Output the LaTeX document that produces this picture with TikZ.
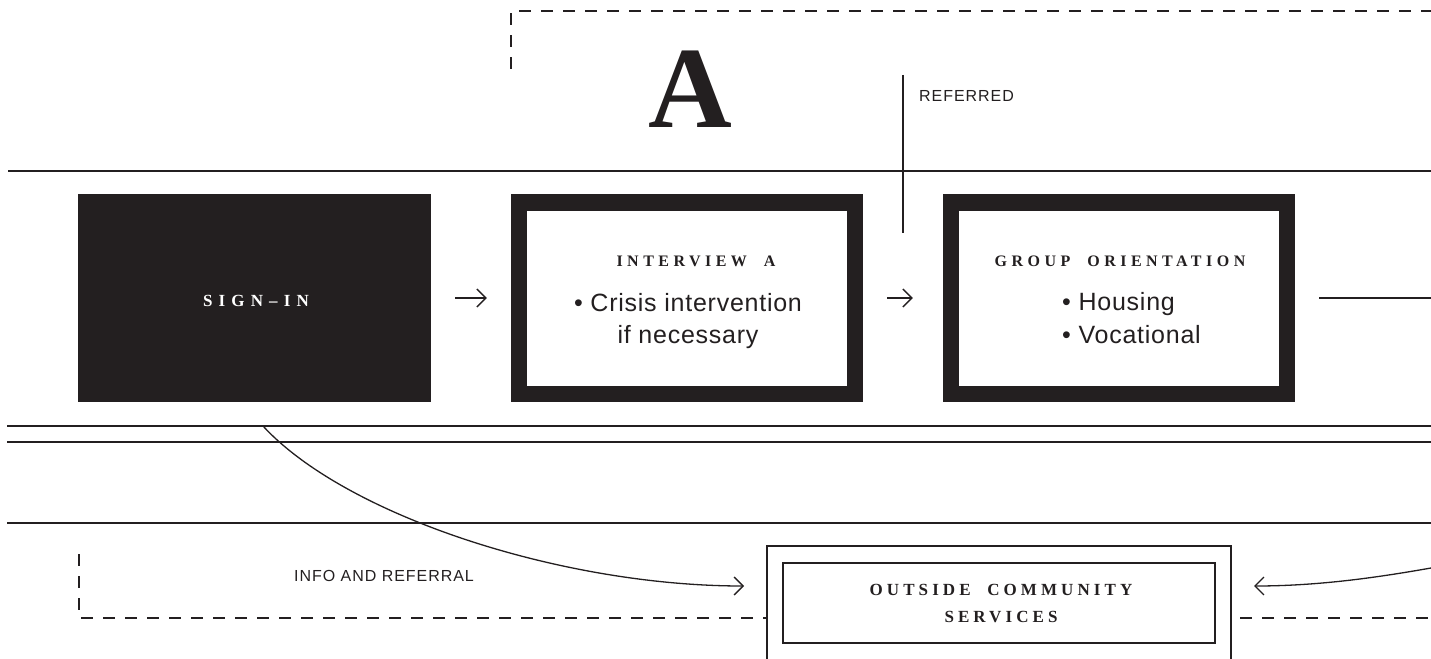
\documentclass[tikz,border=0pt]{standalone}
\usepackage{fontspec}
\usetikzlibrary{arrows.meta}
\setmainfont{Liberation Serif}
\newfontfamily\capsf{Liberation Serif Bold}
\newfontfamily\gothic{Liberation Sans}
\definecolor{ink}{HTML}{231F20}
\tikzset{
 rule/.style={draw=ink, line width=1.3pt},
 dashrule/.style={rule, dash pattern=on 12pt off 10pt},
 arr/.style={rule, -{Straight Barb[length=9pt,width=18pt,sharp]}},
 heavybox/.style={draw=ink, fill=white, line width=16.5pt, minimum width=336pt, minimum height=191.5pt, inner sep=0pt, outer sep=8.25pt},
 darkbox/.style={fill=ink, minimum width=353pt, minimum height=208pt, inner sep=0pt},
 thinbox/.style={draw=ink, line width=1.5pt, fill=white, inner sep=0pt, outer sep=0pt},
 boxtitle/.style={anchor=base, inner sep=0pt, text=ink, font=\capsf\fontsize{16}{19}\selectfont\addfontfeature{LetterSpace=28}},
 bodytext/.style={inner sep=0pt, text=ink, font=\gothic\fontsize{25}{30}\selectfont\addfontfeature{LetterSpace=3}},
 tagtext/.style={anchor=base west, inner sep=0pt, text=ink, font=\gothic\fontsize{16}{19}\selectfont\addfontfeature{LetterSpace=6}},
}
\begin{document}
\begin{tikzpicture}[x=1pt,y=-1pt]
\useasboundingbox (0,0) rectangle (1431,658);
% guide rules
\draw[rule] (8,171) -- (1431,171);
\draw[rule] (7,426) -- (1431,426);
\draw[rule] (7,442) -- (1431,442);
\draw[rule] (7,523) -- (1431,523);
% dashed frames
\draw[dashrule] (511,69) -- (511,11) -- (1431,11);
\draw[dashrule] (79,554) -- (79,618) -- (767,618);
\draw[dashrule] (1240,618) -- (1431,618);
% big letter
\node[anchor=base, inner sep=0pt, text=ink, font=\bfseries\fontsize{116}{120}\selectfont] (bigA) at (690,128) {A};
% referred
\coordinate (reftop) at (903,75);
\coordinate (refbot) at (903,233);
\draw[rule] (reftop) -- (refbot);
\node[tagtext] (reflabel) at (919,102) {REFERRED};
% boxes
\node[darkbox] (signin) at (254.5,298) {};
\node[boxtitle, text=white, font=\capsf\fontsize{17}{20}\selectfont\addfontfeature{LetterSpace=36}] (signintxt) at (256,306) {SIGN–IN};
\node[heavybox] (intv) at (687,298) {};
\node[boxtitle] (intvtitle) at (696,266) {INTERVIEW\ \ A};
\node[bodytext, anchor=base] (intv1) at (688,311) {• Crisis intervention};
\node[bodytext, anchor=base] (intv2) at (688,343) {if necessary};
\node[heavybox] (grp) at (1119,298) {};
\node[boxtitle] (grptitle) at (1120,266) {GROUP\ \ ORIENTATION};
\node[bodytext, anchor=base west] (grp1) at (1062,310) {• Housing};
\node[bodytext, anchor=base west] (grp2) at (1062,343) {• Vocational};
% flow arrows
\draw[arr] ([xshift=24pt]signin.east) -- ([xshift=-24pt]intv.west);
\draw[arr] ([xshift=24pt]intv.east) -- ([xshift=-30pt]grp.west);
\coordinate (rightend) at (1431,298);
\draw[rule] ([xshift=24pt]grp.east) -- (rightend);
% outside community services
\node[thinbox, minimum width=464pt, minimum height=160pt] (ocsout) at (999,626) {};
\node[thinbox, minimum width=432pt, minimum height=80pt] (ocs) at (999,603) {};
\node[boxtitle, font=\capsf\fontsize{17}{20}\selectfont\addfontfeature{LetterSpace=24}] (ocs1) at (1001,595) {OUTSIDE\ \ COMMUNITY};
\node[boxtitle, font=\capsf\fontsize{17}{20}\selectfont\addfontfeature{LetterSpace=24}] (ocs2) at (1001,622) {SERVICES};
\node[tagtext] (infolabel) at (294,581) {INFO AND REFERRAL};
% referral curves
\coordinate (cstart) at (263,426);
\coordinate (cend) at (744,586);
\draw[arr] (cstart) .. controls (345,515) and (560,586) .. (cend);
\coordinate (rstart) at (1431,568);
\coordinate (rend) at (1254,586);
\draw[arr] (rstart) .. controls (1380,577) and (1320,586) .. (rend);
\end{tikzpicture}
\end{document}
